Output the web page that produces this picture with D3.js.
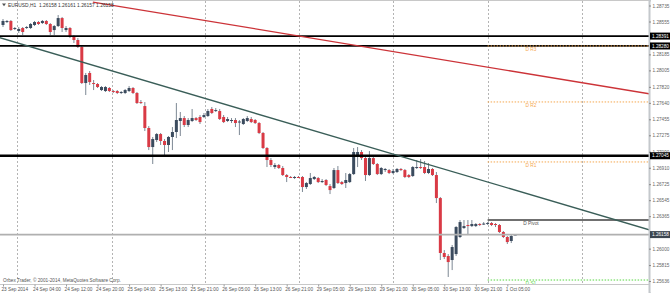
<!DOCTYPE html>
<html>
<head>
<meta charset="utf-8">
<script src="https://cdn.jsdelivr.net/npm/d3@7"></script>
<style>
  body { margin: 0; background: #fff; }
  svg { display: block; font-family: "Liberation Sans", Arial, sans-serif; }
</style>
</head>
<body>
<svg id="chart" width="670" height="293"></svg>
<script>
// EURUSD H1 candles (oldest first)
var opens = [1.28516,1.28549,1.28561,1.28471,1.28448,1.28482,1.28487,1.28482,1.28516,1.28549,
  1.28538,1.28561,1.28527,1.28459,1.28504,1.28594,1.28459,1.28482,1.28392,1.28347,
  1.28268,1.27863,1.27976,1.27863,1.27852,1.27784,1.27773,1.27807,1.27773,1.27773,
  1.27751,1.27751,1.27773,1.27807,1.27751,1.27649,1.27604,1.27357,1.27143,1.27222,
  1.27289,1.27211,1.27166,1.27256,1.27312,1.27436,1.27469,1.27391,1.27436,1.27469,
  1.27481,1.27481,1.27492,1.27571,1.27548,1.27548,1.27481,1.27436,1.27436,1.27447,
  1.27424,1.27402,1.27436,1.27458,1.27447,1.27413,1.27301,1.27132,1.26997,1.26918,
  1.26941,1.26907,1.26828,1.26806,1.26800,1.26806,1.26806,1.26693,1.26727,1.26783,
  1.26794,1.26749,1.26772,1.26704,1.26682,1.26884,1.26749,1.26738,1.26749,1.26839,
  1.27031,1.27087,1.27019,1.26828,1.27019,1.26952,1.26839,1.26884,1.26884,1.26851,
  1.26862,1.26896,1.26884,1.26828,1.26817,1.26907,1.26918,1.26918,1.26851,1.26896,
  1.26828,1.26569,1.25951,1.25917,1.25872,1.25939,1.26131,1.26232,1.26266,1.26254,
  1.26254,1.26277,1.26277,1.26277,1.26288,1.26277,1.26266,1.26187,1.26131,1.26086,
  1.26158];
var highs = [1.28583,1.28572,1.28572,1.28493,1.28493,1.28493,1.28504,1.28538,1.28561,1.28561,
  1.28572,1.28572,1.28538,1.28516,1.28628,1.28606,1.28504,1.28493,1.28403,1.28369,
  1.28279,1.27976,1.27998,1.27897,1.27863,1.27829,1.27829,1.27818,1.27784,1.27784,
  1.27773,1.27796,1.27829,1.27818,1.27762,1.27672,1.27649,1.27379,1.27256,1.27301,
  1.27301,1.27233,1.27267,1.27368,1.27638,1.27537,1.27492,1.27469,1.27571,1.27481,
  1.27503,1.27526,1.27571,1.27593,1.27582,1.27571,1.27503,1.27481,1.27469,1.27469,
  1.27447,1.27469,1.27492,1.27481,1.27458,1.27424,1.27312,1.27143,1.27019,1.26963,
  1.26952,1.26929,1.26839,1.26817,1.26817,1.26817,1.26817,1.26749,1.26851,1.26817,
  1.26806,1.26783,1.26783,1.26727,1.26907,1.26929,1.26761,1.26851,1.26851,1.27132,
  1.27143,1.27109,1.27031,1.27098,1.27031,1.26963,1.26918,1.26907,1.26896,1.26896,
  1.26907,1.26907,1.26896,1.26839,1.26929,1.26997,1.27008,1.26986,1.26963,1.26907,
  1.26862,1.26581,1.25984,1.25939,1.26041,1.26254,1.26322,1.26322,1.26322,1.26322,
  1.26288,1.26288,1.26299,1.26299,1.26299,1.26288,1.26277,1.26198,1.26142,1.26164,
  1.26161];
var lows = [1.28493,1.28538,1.28448,1.28459,1.28426,1.28403,1.28471,1.28471,1.28504,1.28516,
  1.28527,1.28516,1.28403,1.28403,1.28493,1.28437,1.28437,1.28369,1.28313,1.28257,
  1.27852,1.27728,1.27841,1.27784,1.27807,1.27773,1.27762,1.27762,1.27751,1.27739,
  1.27739,1.27739,1.27762,1.27739,1.27627,1.27627,1.27323,1.27109,1.26952,1.27199,
  1.27166,1.27053,1.27087,1.27109,1.27244,1.27267,1.27368,1.27368,1.27424,1.27436,
  1.27402,1.27469,1.27481,1.27514,1.27537,1.27447,1.27413,1.27424,1.27413,1.27368,
  1.27278,1.27391,1.27424,1.27413,1.27402,1.27289,1.27121,1.26918,1.26918,1.26896,
  1.26896,1.26817,1.26749,1.26794,1.26783,1.26794,1.26637,1.26671,1.26716,1.26772,
  1.26738,1.26738,1.26704,1.26614,1.26671,1.26727,1.26716,1.26682,1.26738,1.26828,
  1.26918,1.26997,1.26761,1.26817,1.26941,1.26828,1.26828,1.26862,1.26839,1.26839,
  1.26851,1.26873,1.26794,1.26794,1.26806,1.26896,1.26896,1.26839,1.26839,1.26817,
  1.26513,1.25872,1.25883,1.25681,1.25759,1.25917,1.26119,1.26221,1.26153,1.26243,
  1.26243,1.26254,1.26266,1.26266,1.26254,1.26243,1.26176,1.26119,1.26052,1.26063,
  1.26157];
var closes = [1.28561,1.28561,1.28459,1.28482,1.28471,1.28437,1.28493,1.28527,1.28549,1.28527,
  1.28561,1.28527,1.28437,1.28504,1.28594,1.28482,1.28482,1.28392,1.28347,1.28268,
  1.27863,1.27953,1.27874,1.27857,1.27818,1.27818,1.27818,1.27773,1.27767,1.27751,
  1.27762,1.27784,1.27807,1.27751,1.27638,1.27643,1.27357,1.27143,1.27233,1.27289,
  1.27211,1.27166,1.27256,1.27312,1.27447,1.27469,1.27391,1.27447,1.27469,1.27447,
  1.27424,1.27503,1.27548,1.27526,1.27559,1.27458,1.27424,1.27458,1.27447,1.27413,
  1.27430,1.27458,1.27469,1.27424,1.27413,1.27301,1.27132,1.26997,1.26941,1.26941,
  1.26907,1.26828,1.26806,1.26800,1.26806,1.26800,1.26693,1.26738,1.26794,1.26806,
  1.26749,1.26761,1.26716,1.26659,1.26884,1.26738,1.26727,1.26772,1.26839,1.27087,
  1.27087,1.27019,1.26828,1.27019,1.26952,1.26839,1.26907,1.26896,1.26851,1.26873,
  1.26896,1.26884,1.26806,1.26806,1.26918,1.26918,1.26912,1.26851,1.26896,1.26828,
  1.26569,1.25951,1.25906,1.25849,1.26018,1.26243,1.26299,1.26254,1.26254,1.26277,
  1.26277,1.26266,1.26282,1.26288,1.26266,1.26266,1.26187,1.26131,1.26074,1.26142,
  1.26158];

// price scale labels on the right (the ones not hidden by the value boxes)
var priceTicks = [1.28735,1.28555,1.28185,1.28005,1.27820,1.27640,1.27455,1.27275,
  1.27090,1.26910,1.26725,1.26545,1.26365,1.26000,1.25815,1.25636];
// time labels, one every 8 bars
var timeLabels = ["23 Sep 2014","24 Sep 04:00","24 Sep 12:00","24 Sep 20:00","25 Sep 04:00",
  "25 Sep 13:00","25 Sep 21:00","26 Sep 05:00","26 Sep 13:00","26 Sep 21:00","29 Sep 05:00",
  "29 Sep 13:00","29 Sep 21:00","30 Sep 05:00","30 Sep 13:00","30 Sep 21:00","1 Oct 05:00"];
// day separators (bar index)
var dayBars = [3.5, 27.6, 51.3, 75.1, 99, 123, 147];

// horizontal levels
var blackLevels = [1.28391, 1.28280, 1.27045];
var bidPrice = 1.26158;
var pivotNames = ["D R3", "D R2", "D R1", "D Pivot", "D S1"];
var pivotValues = [1.28280, 1.27650, 1.26975, 1.26322, 1.25647];
var pivotStartBar = 123;
var pivotLabelBar = 134;

// trend lines [bar, price]
var redTrend = [[22.8, 1.28774], [164, 1.27742]];
var greenTrend = [[-0.8, 1.28372], [164, 1.26212]];

var titleText = "EURUSD,H1  1.26158 1.26161 1.26157 1.26158";
var copyText = "Orbex Trader, \u00a9 2001-2014, MetaQuotes Software Corp.";

var bars = opens.map(function(o, i) {
  return {i: i, o: o, h: highs[i], l: lows[i], c: closes[i]};
});

var plotR = 649, plotT = 1, plotB = 284;

var svg = d3.select('#chart');

var x = d3.scaleLinear().domain([0, 100]).range([3, 397]);
var y = d3.scaleLinear().domain([1.25501, 1.28797]).range([293, 0]);

svg.append('defs').append('clipPath').attr('id', 'plot')
  .append('rect').attr('x', 0).attr('y', plotT).attr('width', plotR).attr('height', plotB - plotT);

var plot = svg.append('g').attr('clip-path', 'url(#plot)');

// day separators
plot.selectAll('.day')
  .data(dayBars)
  .enter().append('line')
  .attr('x1', function(d) { return Math.round(x(d)) + 0.5; })
  .attr('x2', function(d) { return Math.round(x(d)) + 0.5; })
  .attr('y1', plotT).attr('y2', plotB)
  .attr('stroke', '#b4b4b4')
  .attr('stroke-dasharray', '2,2');

// candles
var candle = plot.selectAll('.candle')
  .data(bars)
  .enter().append('g');

candle.append('line')
  .attr('x1', function(d) { return x(d.i); })
  .attr('x2', function(d) { return x(d.i); })
  .attr('y1', function(d) { return y(d.h); })
  .attr('y2', function(d) { return y(d.l); })
  .attr('stroke', '#7d8894')
  .attr('stroke-width', 1);

candle.append('rect')
  .attr('x', function(d) { return x(d.i) - 1.5; })
  .attr('width', 3)
  .attr('y', function(d) { return y(Math.max(d.o, d.c)); })
  .attr('height', function(d) { return Math.max(1, Math.abs(y(d.o) - y(d.c))); })
  .attr('fill', function(d) { return d.c >= d.o ? '#3b4b5e' : '#d93a45'; });

// bid line
plot.append('line')
  .attr('x1', 0).attr('x2', plotR)
  .attr('y1', y(bidPrice)).attr('y2', y(bidPrice))
  .attr('stroke', '#b0b0b0').attr('stroke-width', 1.6);

// black horizontal levels
plot.selectAll('.lvl')
  .data(blackLevels)
  .enter().append('line')
  .attr('x1', 0).attr('x2', plotR)
  .attr('y1', function(d) { return y(d); })
  .attr('y2', function(d) { return y(d); })
  .attr('stroke', '#000')
  .attr('stroke-width', function(d, i) { return i === 2 ? 2.6 : 1.7; });

// pivot levels
var pivColor = function(n) {
  if (n === 'D Pivot') return '#707070';
  if (n === 'D S1') return '#55d640';
  return '#f5a850';
};
var piv = plot.selectAll('.piv')
  .data(pivotValues)
  .enter().append('g');

piv.append('line')
  .attr('x1', x(pivotStartBar)).attr('x2', plotR)
  .attr('y1', function(d) { return y(d); })
  .attr('y2', function(d) { return y(d); })
  .attr('stroke', function(d, i) { return pivColor(pivotNames[i]); })
  .attr('stroke-width', function(d, i) { return pivotNames[i] === 'D Pivot' ? 1.8 : 1; })
  .attr('stroke-dasharray', function(d, i) { return pivotNames[i] === 'D Pivot' ? null : '1.5,1.5'; });

piv.append('text')
  .attr('x', x(pivotLabelBar))
  .attr('y', function(d) { return y(d) + 5.2; })
  .attr('text-anchor', 'middle')
  .attr('font-size', 4.8)
  .attr('fill', function(d, i) { return pivotNames[i] === 'D Pivot' ? '#555' : pivColor(pivotNames[i]); })
  .text(function(d, i) { return pivotNames[i]; });

// trend lines
var line = d3.line().x(function(d) { return x(d[0]); }).y(function(d) { return y(d[1]); });
plot.append('path').attr('d', line(redTrend))
  .attr('fill', 'none').attr('stroke', '#cc3338').attr('stroke-width', 1.3);
plot.append('path').attr('d', line(greenTrend))
  .attr('fill', 'none').attr('stroke', '#3a5e58').attr('stroke-width', 1.4);

// frame
svg.append('line').attr('x1', 0).attr('x2', plotR).attr('y1', plotT - 0.5).attr('y2', plotT - 0.5)
  .attr('stroke', '#c8c8c8');
svg.append('line').attr('x1', 0).attr('x2', plotR).attr('y1', plotB + 0.5).attr('y2', plotB + 0.5)
  .attr('stroke', '#c8c8c8');

// right price axis
var yAxis = svg.append('g')
  .attr('transform', 'translate(' + plotR + ',0)')
  .call(d3.axisRight(y).tickValues(priceTicks).tickSize(2).tickPadding(1.5)
    .tickFormat(d3.format('.5f')));
yAxis.select('.domain').attr('stroke', '#c4c8cc').attr('stroke-width', 2);
yAxis.selectAll('.tick line').attr('stroke', '#888');
yAxis.selectAll('.tick text').attr('font-size', 4.7).attr('fill', '#666')
  .attr('font-family', '"Liberation Sans", Arial, sans-serif');

// value boxes on the axis
var boxes = blackLevels.map(function(v) { return {v: v, bg: '#000'}; })
  .concat([{v: bidPrice, bg: '#3c4650'}]);
var box = svg.selectAll('.box')
  .data(boxes)
  .enter().append('g');
box.append('rect')
  .attr('x', plotR + 1).attr('width', 670 - plotR - 1)
  .attr('y', function(d) { return y(d.v) - 3.5; })
  .attr('height', 7)
  .attr('fill', function(d) { return d.bg; });
box.append('text')
  .attr('x', plotR + 3)
  .attr('y', function(d) { return y(d.v) + 1.7; })
  .attr('font-size', 4.7).attr('fill', '#fff')
  .text(function(d) { return d3.format('.5f')(d.v); });

// time axis
var xAxis = svg.append('g')
  .attr('transform', 'translate(0,' + (plotB + 0.5) + ')')
  .call(d3.axisBottom(x).tickValues(timeLabels.map(function(d, i) { return i * 8; }))
    .tickSize(2).tickPadding(1.5)
    .tickFormat(function(d) { return timeLabels[d / 8]; }));
xAxis.select('.domain').remove();
xAxis.selectAll('.tick line').attr('stroke', '#999');
xAxis.selectAll('.tick text').attr('font-size', 4.7).attr('fill', '#555')
  .attr('text-anchor', 'start').attr('dx', -2)
  .attr('font-family', '"Liberation Sans", Arial, sans-serif');

// title and copyright
svg.append('path').attr('d', 'M2,3.5 L6,3.5 L4,6.2 Z').attr('fill', '#555');
svg.append('text').attr('x', 8).attr('y', 6.8)
  .attr('font-size', 4.9).attr('fill', '#333')
  .attr('xml:space', 'preserve')
  .text(titleText);
svg.append('text').attr('x', 3).attr('y', 282)
  .attr('font-size', 4.7).attr('fill', '#555')
  .text(copyText);
</script>
</body>
</html>
